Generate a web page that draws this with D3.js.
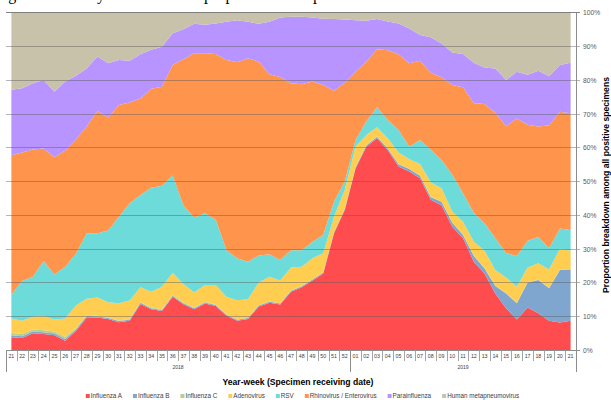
<!DOCTYPE html>
<html><head><meta charset="utf-8">
<script src="https://cdn.jsdelivr.net/npm/d3@7"></script>
<style>body{margin:0;background:#fff;overflow:hidden}svg{display:block}</style>
</head><body>
<script>
// ---- data ----
const weeks2018 = ["21","22","23","24","25","26","27","28","29","30","31","32","33","34","35","36","37","38","39","40","41","42","43","44","45","46","47","48","49","50","51","52"];
const weeks2019 = ["01","02","03","04","05","06","07","08","09","10","11","12","13","14","15","16","17","18","19","20","21"];
const yearLabels = ["2018","2019"];
const seriesNames = ["Influenza A","Influenza B","Influenza C","Adenovirus","RSV","Rhinovirus / Enterovirus","Parainfluenza","Human metapneumovirus"];
const seriesColors = ["#FF4D4F","#7FA6CF","#B6D08C","#FFCD4F","#6DDBDA","#FF944D","#B794FF","#C8C2AA"];
const influenzaA = [3.9,3.7,5.1,4.9,4.5,2.9,5.8,9.8,9.8,9.3, 8.4,8.8,13.8,12.2,11.7,15.9,13.7,12.2,13.9,13.2, 10.3,8.8,9.3,13.0,14.1,13.6,17.4,18.7,20.7,22.8, 34.7,41.6,53.9,60.3,62.8,59.3,54.5,53.0,51.0,44.6, 43.0,36.6,33.2,26.3,22.8,16.9,12.5,9.2,12.7,11.0, 8.8,8.3,8.8];
const influenzaB = [0.6,0.5,0.5,0.5,0.5,0.5,0.4,0.4,0.3,0.3, 0.3,0.3,0.3,0.3,0.3,0.3,0.3,0.3,0.3,0.3, 0.3,0.3,0.3,0.3,0.3,0.3,0.3,0.3,0.3,0.3, 0.3,0.3,0.3,0.4,0.5,0.5,0.6,0.7,0.7,0.8, 1.0,1.2,1.0,1.7,1.5,2.2,4.4,4.8,7.4,9.9, 9.6,15.5,15.2];
const influenzaC = [0.7,0.7,0.6,0.6,0.6,0.6,0.4,0.2,0.2,0.2, 0.2,0.2,0.2,0.2,0.2,0.2,0.2,0.2,0.2,0.1, 0.1,0.1,0.1,0.1,0.1,0.1,0.1,0.1,0.1,0.1, 0.1,0.1,0.1,0.1,0.1,0.1,0.1,0.1,0.1,0.1, 0.1,0.1,0.1,0.1,0.1,0.1,0.1,0.1,0.1,0.1, 0.1,0.1,0.1];
const adenovirus = [4.3,3.9,3.8,4.2,3.6,5.5,6.7,4.9,5.4,4.5, 5.1,5.5,4.4,4.7,6.7,6.6,5.5,4.5,5.0,5.8, 5.2,5.7,5.5,6.7,7.3,6.7,6.8,5.7,6.2,5.6, 4.5,5.5,6.0,3.0,2.7,2.9,3.4,2.8,3.4,4.2, 3.9,3.2,3.8,4.1,5.1,4.6,4.6,4.8,4.4,4.8, 5.5,6.2,5.4];
const rsv = [7.1,11.8,11.8,16.3,13.3,15.3,15.3,19.4,19.0,21.2, 25.6,28.8,27.3,30.8,29.9,28.8,23.2,22.2,21.2,19.4, 13.8,12.4,11.1,8.0,6.7,6.1,5.1,4.9,4.9,5.4, 4.5,2.5,2.0,4.0,5.9,5.4,6.7,3.7,7.1,9.7, 8.4,10.9,8.4,8.6,8.2,9.4,7.3,9.1,7.9,7.8, 6.3,6.0,6.2];
const rhinoEntero = [41.2,38.0,37.7,33.3,34.7,34.4,33.9,31.6,36.2,33.5, 33.1,29.8,28.6,29.3,29.3,32.7,43.3,48.6,47.4,49.0, 56.3,58.0,60.2,57.4,53.3,54.2,49.4,49.1,47.4,44.4, 32.8,29.3,20.2,17.7,17.2,20.7,22.4,24.7,23.5,22.8, 24.5,26.6,31.4,32.4,35.3,37.2,37.5,40.7,34.3,32.7, 36.4,34.6,34.5];
const parainfluenza = [19.4,19.0,19.6,20.3,19.4,20.4,18.8,17.2,16.1,16.0, 13.3,12.4,13.1,11.5,11.8,9.4,8.9,8.7,8.4,9.0, 11.3,12.5,10.8,11.2,15.5,17.6,19.7,20.0,19.0,19.6, 21.2,18.7,15.3,12.1,8.9,8.5,9.1,10.3,7.6,10.5, 10.0,9.6,9.9,12.0,10.8,13.1,13.7,13.8,14.8,16.5, 14.5,13.8,15.0];
const hmpv = [22.8,22.4,20.9,19.9,23.4,20.4,18.7,16.5,13.0,15.0, 14.0,14.2,12.3,11.0,10.1,6.1,4.9,3.3,3.6,3.2, 2.7,2.2,2.7,3.3,2.7,1.4,1.2,1.2,1.4,1.8, 1.9,2.0,2.2,2.4,1.9,2.6,3.2,4.7,6.6,7.3, 9.1,11.8,12.2,14.8,16.2,16.5,19.9,17.5,18.4,17.2, 18.8,15.5,14.8];
const yTicks = [0,10,20,30,40,50,60,70,80,90,100];
const xTitle = "Year-week (Specimen receiving date)";
const yTitle = "Proportion breakdown among all positive specimens";
const captionText = "Figure 2. Weekly distribution of proportion of all positive detections";

// ---- build ----
const W = 611, H = 400;
const FONT = "'Liberation Sans', Arial, sans-serif";
const svg = d3.select("body").append("svg").attr("width", W).attr("height", H)
  .style("font-family", FONT);

const weekRows = weeks2018.map(w => ({year: yearLabels[0], w}))
  .concat(weeks2019.map(w => ({year: yearLabels[1], w})));
const keys = weekRows.map(d => d.year + "-" + d.w);
const valuesBySeries = [influenzaA, influenzaB, influenzaC, adenovirus, rsv, rhinoEntero, parainfluenza, hmpv];
const table = keys.map((k, i) => {
  const row = {key: k};
  seriesNames.forEach((s, j) => row[s] = valuesBySeries[j][i]);
  return row;
});

const x = d3.scaleBand().domain(keys).range([6, 576]).padding(0);
const cx = k => x(k) + x.bandwidth() / 2;
const y = d3.scaleLinear().domain([0, 1]).range([350.5, 12.7]);
const color = d3.scaleOrdinal().domain(seriesNames).range(seriesColors);

// caption (cut off at top)
svg.append("text").attr("x", -5).attr("y", -0.5)
  .style("font-family", "'Liberation Serif', 'Times New Roman', serif")
  .style("font-size", "16px").attr("fill", "#000").text(captionText);

const layers = d3.stack().keys(seriesNames).offset(d3.stackOffsetExpand)(table);
const area = d3.area().x(d => cx(d.data.key)).y0(d => y(d[0])).y1(d => y(d[1]));
svg.append("g").selectAll("path").data(layers).join("path")
  .attr("d", area).attr("fill", d => color(d.key));

// gridlines over areas
const gy = t => Math.floor(y(t / 100)) + 0.5;
svg.append("g").selectAll("line").data(yTicks.filter(t => t > 0)).join("line")
  .attr("x1", 6).attr("x2", 580).attr("y1", gy).attr("y2", gy)
  .attr("stroke", "#5a5a5a").attr("stroke-opacity", d => d === 100 ? 0.75 : 0.45).attr("stroke-width", 1);

// right axis
svg.append("line").attr("x1", 576.5).attr("x2", 576.5).attr("y1", gy(100)).attr("y2", 351)
  .attr("stroke", "#8c8c8c");
svg.append("line").attr("x1", 576).attr("x2", 580).attr("y1", gy(0)).attr("y2", gy(0)).attr("stroke", "#8c8c8c");
svg.append("g").selectAll("text").data(yTicks).join("text")
  .attr("x", 583).attr("y", d => gy(d)).attr("dy", "0.35em")
  .style("font-size", "6.7px").attr("fill", "#595959").text(d => d + "%");
svg.append("text").attr("transform", "translate(606,185) rotate(-90)")
  .attr("text-anchor", "middle").attr("dy", "0.35em")
  .style("font-size", "8.6px").style("font-weight", "bold").attr("fill", "#000").text(yTitle);

// x axis
svg.append("line").attr("x1", 6).attr("x2", 576.5).attr("y1", 350.5).attr("y2", 350.5).attr("stroke", "#8c8c8c");
const bounds = keys.map(k => Math.round(x(k)) + 0.5).concat([576.5]);
svg.append("g").selectAll("line").data(bounds).join("line")
  .attr("x1", d => d).attr("x2", d => d).attr("y1", 350.5).attr("y2", 361)
  .attr("stroke", "#a6a6a6");
const groupBounds = [x(keys[0]), x(yearLabels[1] + "-" + weeks2019[0]), 576].map(v => Math.round(v) + 0.5);
svg.append("g").selectAll("line").data(groupBounds).join("line")
  .attr("x1", d => d).attr("x2", d => d).attr("y1", 350.5).attr("y2", 372)
  .attr("stroke", "#8c8c8c");
svg.append("g").selectAll("text").data(weekRows).join("text")
  .attr("x", (d, i) => cx(keys[i])).attr("y", 356.3).attr("dy", "0.35em")
  .attr("text-anchor", "middle").style("font-size", "5.3px").attr("fill", "#404040").text(d => d.w);
svg.append("g").selectAll("text").data(yearLabels).join("text")
  .attr("x", yr => {
    const ks = keys.filter(k => k.startsWith(yr));
    return (x(ks[0]) + x(ks[ks.length - 1]) + x.bandwidth()) / 2;
  }).attr("y", 366.8).attr("dy", "0.35em").attr("text-anchor", "middle")
  .style("font-size", "5px").attr("fill", "#404040").text(d => d);

svg.append("text").attr("x", 298).attr("y", 385).attr("text-anchor", "middle")
  .style("font-size", "8.6px").style("font-weight", "bold").attr("fill", "#000").text(xTitle);

// legend
const lg = svg.append("g");
const items = lg.selectAll("g").data(seriesNames).join("g");
items.append("rect").attr("width", 4).attr("height", 4).attr("y", -2).attr("fill", d => color(d));
items.append("text").attr("x", 5).attr("dy", "0.35em").style("font-size", "6.3px").attr("fill", "#404040").text(d => d);
let cur = 0;
items.each(function() {
  const w = this.querySelector("text").getComputedTextLength() + 5;
  d3.select(this).attr("transform", `translate(${cur},0)`);
  cur += w + 11;
});
const total = cur - 11;
lg.attr("transform", `translate(${302.5 - total / 2},396)`);
</script>
</body></html>
